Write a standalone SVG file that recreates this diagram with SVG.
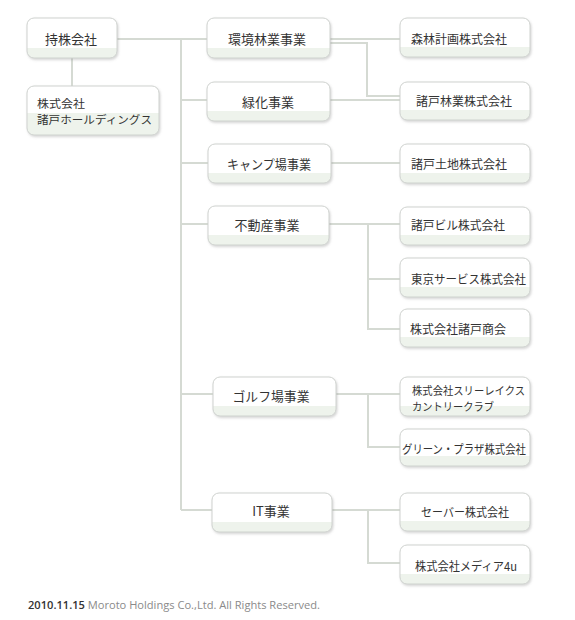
<svg xmlns="http://www.w3.org/2000/svg" width="575" height="620" viewBox="0 0 575 620">
<style>
.box{fill:url(#band);stroke:#cfd2cf;stroke-width:1;filter:url(#sh)}
.box2{fill:url(#band2);stroke:#cfd2cf;stroke-width:1;filter:url(#sh)}
.t{font-family:"Noto Sans CJK JP",sans-serif;font-size:13px;fill:#333;text-anchor:middle;dominant-baseline:central}
.s{font-size:12px}
.m{font-size:11px}
.l{text-anchor:start}
.c{fill:none;stroke:#d5dad3;stroke-width:2}
.f{font-family:"Open Sans",sans-serif;font-size:10px;fill:#8a8a8a}
</style>
<defs>
<linearGradient id="band" x1="0" y1="0" x2="0" y2="1">
<stop offset="0" stop-color="#fff"/><stop offset="0.74" stop-color="#fff"/><stop offset="0.74" stop-color="#eef3ec"/><stop offset="1" stop-color="#eef3ec"/>
</linearGradient>
<linearGradient id="band2" x1="0" y1="0" x2="0" y2="1">
<stop offset="0" stop-color="#fff"/><stop offset="0.56" stop-color="#fff"/><stop offset="0.56" stop-color="#eef3ec"/><stop offset="1" stop-color="#eef3ec"/>
</linearGradient>
<filter id="sh" x="-10%" y="-10%" width="120%" height="130%">
<feDropShadow dx="1" dy="1.5" stdDeviation="1" flood-color="#888" flood-opacity="0.35"/>
</filter>
</defs>
<g id="connectors">
<path class="c" d="M72 58V86"/>
<path class="c" d="M117 39H207"/>
<path class="c" d="M181 39V510"/>
<path class="c" d="M181 100H207"/>
<path class="c" d="M181 163H208"/>
<path class="c" d="M181 224H208"/>
<path class="c" d="M181 394H213"/>
<path class="c" d="M181 510H212"/>
<path class="c" d="M330 39H400"/>
<path class="c" d="M330 43H367V96H400"/>
<path class="c" d="M330 100H400"/>
<path class="c" d="M331 163H400"/>
<path class="c" d="M329 224H400M368 224V329H400M368 279H400"/>
<path class="c" d="M336 394H400M368 394V447H400"/>
<path class="c" d="M332 510H400M368 510V563H400"/>
</g>
<g id="n-mochikabu"><rect class="box" x="27" y="18" width="90" height="40" rx="7"/><text class="t" x="71" y="38">持株会社</text></g>
<g id="n-holdings"><rect class="box2" x="27" y="86" width="132" height="49" rx="7"/><text class="t m l" x="37" y="102.5" textLength="48" lengthAdjust="spacingAndGlyphs">株式会社</text><text class="t m l" x="37" y="118.5" textLength="115" lengthAdjust="spacingAndGlyphs">諸戸ホールディングス</text></g>
<g id="n-kankyo"><rect class="box" x="207" y="18" width="123" height="40" rx="7"/><text class="t" x="267" y="38">環境林業事業</text></g>
<g id="n-ryokka"><rect class="box" x="207" y="82" width="123" height="39" rx="7"/><text class="t" x="268" y="101">緑化事業</text></g>
<g id="n-camp"><rect class="box" x="208" y="144" width="123" height="39" rx="7"/><text class="t" x="269" y="163" textLength="84" lengthAdjust="spacingAndGlyphs">キャンプ場事業</text></g>
<g id="n-fudosan"><rect class="box" x="208" y="206" width="121" height="39" rx="7"/><text class="t" x="267" y="224">不動産事業</text></g>
<g id="n-golf"><rect class="box" x="213" y="377" width="123" height="39" rx="7"/><text class="t" x="271" y="395" textLength="77" lengthAdjust="spacingAndGlyphs">ゴルフ場事業</text></g>
<g id="n-it"><rect class="box" x="212" y="493" width="120" height="39" rx="7"/><text class="t" x="271" y="510">IT事業</text></g>
<g id="n-shinrin"><rect class="box" x="400" y="18" width="130" height="39" rx="7"/><text class="t s" x="459" y="38">森林計画株式会社</text></g>
<g id="n-ringyo"><rect class="box" x="400" y="82" width="130" height="38" rx="7"/><text class="t s" x="464" y="100">諸戸林業株式会社</text></g>
<g id="n-tochi"><rect class="box" x="400" y="144" width="130" height="39" rx="7"/><text class="t s" x="459" y="163">諸戸土地株式会社</text></g>
<g id="n-bill"><rect class="box" x="400" y="207" width="130" height="38" rx="7"/><text class="t s" x="458" y="224" textLength="94" lengthAdjust="spacingAndGlyphs">諸戸ビル株式会社</text></g>
<g id="n-tokyo"><rect class="box" x="400" y="258" width="130" height="39" rx="7"/><text class="t s" x="468.5" y="278" textLength="115" lengthAdjust="spacingAndGlyphs">東京サービス株式会社</text></g>
<g id="n-shokai"><rect class="box" x="400" y="309" width="130" height="38" rx="7"/><text class="t s" x="458" y="328">株式会社諸戸商会</text></g>
<g id="n-threelakes"><rect class="box" x="400" y="377" width="130" height="39" rx="7"/><text class="t m l" x="412" y="389.5" textLength="113" lengthAdjust="spacingAndGlyphs">株式会社スリーレイクス</text><text class="t m l" x="412" y="405.5" textLength="82" lengthAdjust="spacingAndGlyphs">カントリークラブ</text></g>
<g id="n-green"><rect class="box" x="400" y="429" width="130" height="37" rx="7"/><text class="t s" x="464" y="448" textLength="124" lengthAdjust="spacingAndGlyphs">グリーン・プラザ株式会社</text></g>
<g id="n-saver"><rect class="box" x="400" y="493" width="130" height="38" rx="7"/><text class="t s" x="465" y="511" textLength="88" lengthAdjust="spacingAndGlyphs">セーバー株式会社</text></g>
<g id="n-media"><rect class="box" x="400" y="545" width="130" height="39" rx="7"/><text class="t s" x="466" y="565" textLength="102" lengthAdjust="spacingAndGlyphs">株式会社メディア4u</text></g>
<text class="f" x="28" y="609" textLength="292" lengthAdjust="spacingAndGlyphs"><tspan fill="#333" font-weight="600">2010.11.15</tspan> Moroto Holdings Co.,Ltd. All Rights Reserved.</text>
</svg>
